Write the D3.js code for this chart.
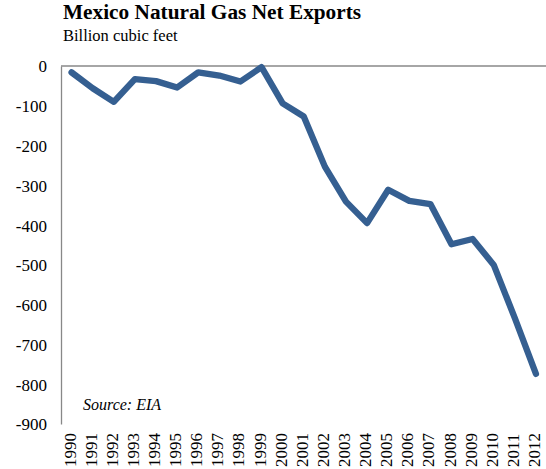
<!DOCTYPE html>
<html>
<head>
<meta charset="utf-8">
<script src="https://cdn.jsdelivr.net/npm/d3@7"></script>
<style>
  body { margin: 0; background: #fff; }
  svg { display: block; }
  svg text { font-family: "Liberation Serif", "Times New Roman", serif !important; }
</style>
</head>
<body>
<svg id="chart" width="546" height="469"></svg>
<script>
// Mexico natural gas net exports, billion cubic feet
const years = ["1990","1991","1992","1993","1994","1995","1996","1997","1998","1999",
               "2000","2001","2002","2003","2004","2005","2006","2007","2008","2009",
               "2010","2011","2012"];
const netExports = [-16, -56, -90, -33, -38, -54, -16, -24, -39, -3,
                    -94, -127, -253, -341, -395, -311, -339, -347, -448, -435,
                    -500, -634, -774];
const yTicks = [0, -100, -200, -300, -400, -500, -600, -700, -800, -900];

const svg = d3.select("#chart");
const plot = { left: 61, right: 546, top: 66, bottom: 424 };

const x = d3.scaleBand().domain(years).range([plot.left, plot.right + 0.5]);
const y = d3.scaleLinear().domain([-900, 0]).range([plot.bottom, plot.top]);

// Titles
svg.append("text").attr("x", 63).attr("y", 19)
  .attr("font-size", 21.3).attr("font-weight", "bold").attr("fill", "#000")
  .text("Mexico Natural Gas Net Exports");
svg.append("text").attr("x", 63).attr("y", 41)
  .attr("font-size", 16.5).attr("fill", "#000")
  .text("Billion cubic feet");

// Value axis on the left
const yAxis = svg.append("g").attr("transform", `translate(${plot.left},0)`)
  .call(d3.axisLeft(y).tickValues(yTicks).tickSize(0).tickPadding(14).tickFormat(d => String(d)));
yAxis.attr("font-family", null);
yAxis.select(".domain").attr("stroke", "#888").attr("stroke-width", 1.3);
yAxis.selectAll("text").attr("font-size", 17)
  .attr("fill", "#000").attr("dy", "0.35em");

// Category axis line sits at zero
svg.append("line")
  .attr("x1", plot.left).attr("x2", plot.right)
  .attr("y1", y(0)).attr("y2", y(0))
  .attr("stroke", "#888").attr("stroke-width", 1.3);

// Year labels along the bottom, rotated
svg.append("g").selectAll("text").data(years).join("text")
  .attr("transform", d => `translate(${x(d) + x.bandwidth() / 2 + 4},467) rotate(-90)`)
  .attr("font-size", 17).attr("fill", "#000")
  .text(d => d);

// Net exports line
const line = d3.line()
  .x((d, i) => x(years[i]) + x.bandwidth() / 2)
  .y(d => y(d));
svg.append("path").datum(netExports)
  .attr("d", line)
  .attr("fill", "none")
  .attr("stroke", "#355f91")
  .attr("stroke-width", 6.3)
  .attr("stroke-linejoin", "round")
  .attr("stroke-linecap", "round");

// Source note
svg.append("text").attr("x", 83).attr("y", 410)
  .attr("font-size", 16).attr("font-style", "italic").attr("fill", "#000")
  .text("Source: EIA");
</script>
</body>
</html>
